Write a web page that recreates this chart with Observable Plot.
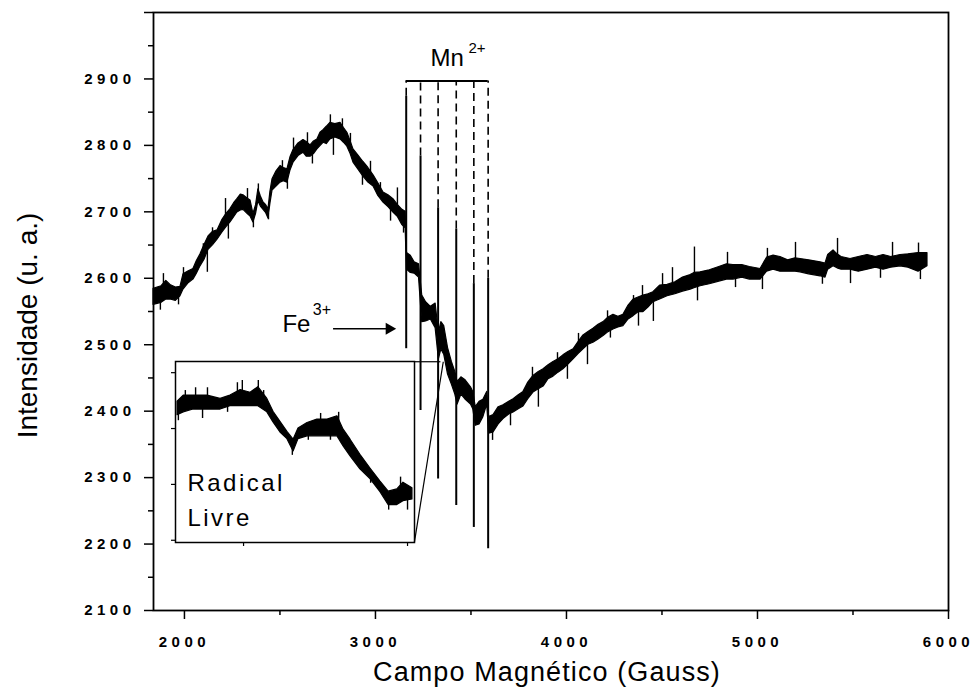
<!DOCTYPE html>
<html>
<head>
<meta charset="utf-8">
<script src="https://cdn.jsdelivr.net/npm/d3@7"></script>
<script src="https://cdn.jsdelivr.net/npm/@observablehq/plot@0.6"></script>
<style>
  body { margin: 0; background: #fff; }
  #wrap { position: relative; width: 973px; height: 698px; }
  #wrap svg text { font-family: "Liberation Sans", Arial, sans-serif; }
  g[aria-label="y-axis tick label"] text,
  g[aria-label="x-axis tick label"] text { letter-spacing: 4.5px; font-weight: bold; }
</style>
</head>
<body>
<div id="wrap"></div>
<script>
// ---------- main spectrum (field in Gauss, band low/high of the noisy trace) ----------
const fieldG = [1838,1880,1905,1927,1955,1979,1995,2020,2047,2065,2084,2105,2126,2150,2173,2199,2220,2241,2260,2277,2295,2309,2330,2346,2361,2375,2387,2400,2414,2428,2440,2450,2461,2482,2503,2520,2539,2555,2571,2597,2623,2640,2660,2678,2696,2712,2728,2745,2764,2790,2817,2835,2853,2870,2885,2910,2937,2963,2990,3015,3042,3068,3094,3118,3141,3158,
  3165,3185,3205,3228,3245,3265,3290,3315,3332,3345,3360,3380,3400,3418,3430,3450,3470,3500,3512,3525,3545,3565,3585,3595,
  3618,3645,3670,3700,3723,3750,3775,3800,3827,3855,3880,3906,3932,3958,3984,4010,4037,4063,4089,4115,4141,4168,4194,4220,4246,4272,4298,4325,4351,4377,4403,4429,4455,4490,4529,4570,4610,4650,4670,4702,4750,4800,4840,4874,4920,4960,5016,5050,5084,5120,5160,5199,5225,5270,5330,5356,5370,5398,5419,5440,5487,5530,5576,5620,5660,5700,5749,5790,5843,5890];
const lowI = [2560,2563,2568,2568,2566,2573,2583,2592,2598,2607,2618,2628,2643,2650,2658,2669,2677,2684,2692,2699,2702,2703,2697,2693,2684,2697,2716,2708,2703,2698,2690,2712,2732,2738,2744,2746,2744,2762,2774,2784,2789,2783,2783,2787,2794,2799,2804,2802,2809,2812,2809,2804,2798,2787,2774,2764,2753,2744,2738,2724,2714,2707,2699,2692,2680,2675,
  2613,2608,2607,2601,2534,2535,2538,2525,2478,2493,2485,2455,2440,2425,2410,2425,2418,2410,2403,2378,2380,2391,2410,2366,
  2368,2380,2388,2395,2398,2403,2407,2418,2428,2433,2437,2448,2452,2458,2463,2470,2478,2486,2493,2500,2503,2508,2513,2519,2523,2526,2528,2538,2543,2549,2549,2556,2564,2568,2573,2576,2580,2583,2585,2588,2591,2595,2598,2598,2601,2598,2598,2610,2613,2610,2610,2610,2609,2606,2603,2601,2613,2618,2615,2613,2613,2610,2613,2616,2613,2616,2618,2616,2610,2618];
const highI = [2584,2588,2596,2590,2586,2587,2606,2610,2614,2626,2636,2650,2663,2670,2672,2688,2697,2704,2713,2719,2726,2725,2720,2717,2697,2710,2734,2723,2714,2710,2704,2730,2749,2761,2769,2766,2764,2782,2793,2803,2808,2805,2800,2806,2809,2819,2823,2828,2834,2832,2834,2826,2819,2806,2794,2785,2775,2766,2755,2743,2729,2725,2719,2710,2703,2700,
  2638,2634,2624,2621,2574,2564,2557,2562,2518,2534,2528,2495,2474,2459,2444,2451,2447,2436,2429,2406,2414,2417,2429,2391,
  2394,2406,2409,2414,2418,2424,2429,2443,2453,2459,2463,2469,2474,2478,2484,2489,2493,2504,2514,2519,2524,2530,2534,2541,2545,2542,2545,2559,2568,2571,2574,2576,2579,2589,2590,2594,2601,2605,2608,2609,2612,2617,2621,2620,2620,2617,2614,2631,2634,2632,2627,2630,2629,2627,2624,2622,2635,2642,2636,2632,2629,2632,2635,2632,2635,2632,2635,2636,2638,2638];

// ---------- isolated noise needles (field, tip value) ----------
const spikeField = [1874,1890,1969,1995,2099,2120,2147,2215,2230,2330,2361,2387,2440,2513,2539,2571,2644,2670,2764,2780,2827,2869,2932,2974,3026,3079,3115,3147,
  3613,3707,3822,3853,3953,4005,4063,4110,4215,4230,4351,4377,4398,4455,4503,4555,4670,4686,4843,4885,5026,5052,5199,5340,5419,5487,5644,5707,5843,5853];
const spikeTip = [2552,2607,2560,2616,2652,2609,2676,2720,2659,2735,2676,2742,2688,2777,2734,2811,2819,2772,2846,2785,2840,2818,2740,2776,2744,2686,2736,2668,
  2356,2378,2466,2406,2488,2448,2517,2470,2551,2510,2574,2528,2589,2535,2607,2616,2647,2566,2639,2586,2583,2645,2654,2591,2660,2592,2600,2654,2653,2598];

// ---------- Mn2+ hyperfine lines ----------
const mnField = [3161, 3236, 3328, 3423, 3515, 3590];
const mnTop = [2874, 2784, 2706, 2674, 2592, 2600];
const mnBottom = [2494, 2401, 2298, 2258, 2225, 2193];
const bracketLevel = 2897;

// ---------- inset: radical livre (zoomed region) ----------
const insetField = [3303.9,3305.4,3307.8,3311.2,3314.4,3316.8,3319.3,3321.7,3323.6,3325.8,3327.3,3329.0,3330.7,3332.2,3333.4,3335.6,3338.0,3340.5,3342.9,3344.4,3346.1,3348.5,3351.0,3353.4,3355.4,3357.5,3359.0,3361.2];
const insetLow = [2472.4,2472.9,2473.4,2473.4,2473.4,2474.0,2474.0,2474.0,2474.0,2472.9,2471.1,2469.3,2468.1,2465.9,2468.1,2468.6,2468.6,2468.6,2468.6,2466.8,2465.0,2462.7,2460.9,2458.6,2456.3,2456.3,2457.0,2457.3];
const insetHigh = [2474.8,2475.9,2475.9,2475.9,2475.3,2475.9,2476.9,2476.4,2477.4,2475.3,2473.0,2471.2,2469.4,2468.0,2470.0,2471.0,2471.6,2471.6,2472.2,2469.8,2468.0,2465.3,2462.8,2460.5,2458.7,2459.1,2460.3,2459.3];
const insetSpikeField = [3304.1,3305.8,3308.3,3310.0,3311.2,3316.1,3318.5,3319.7,3323.6,3324.9,3331.9,3335.8,3338.8,3341.2,3343.2,3351.0,3355.4,3358.3,3360.0];
const insetSpikeTip = [2471.4,2476.8,2477.3,2471.8,2477.3,2472.9,2478.2,2478.6,2478.6,2476.8,2465.2,2467.9,2472.7,2467.9,2472.9,2460.2,2455.4,2461.3,2455.4];

// ---------- axes ----------
const xMajor = [2000, 3000, 4000, 5000, 6000];
const xMinor = [2500, 3500, 4500, 5500];
const yMajor = [2100, 2200, 2300, 2400, 2500, 2600, 2700, 2800, 2900, 3000];
const yMinor = [2150, 2250, 2350, 2450, 2550, 2650, 2750, 2850, 2950];
const yLabelled = [2100, 2200, 2300, 2400, 2500, 2600, 2700, 2800, 2900];
const xTitle = "Campo Magnético (Gauss)";
const yTitle = "Intensidade (u. a.)";

// ---------- annotations ----------
const mnLabel = {x: 3288, y: 2931, text: "Mn", sup: "2+", supX: 3487, supY: 2947};
const feLabel = {x: 2513, y: 2531, text: "Fe", sup: "3+", supX: 2672, supY: 2553};
const feArrow = {x1: 2778, x2: 3072, y: 2524};
const insetCorner = {x: 3204, yTop: 2474.4, yBottom: 2203};
const insetTarget = {xTop: 3340, xBottom: 3355, y: 2474.4};
const insetText = [{x: 3306.3, y: 2460.2, t: "Radical"}, {x: 3306.3, y: 2453.9, t: "Livre"}];

// ---------- build rows ----------
const trace = fieldG.map((g, i) => ({G: g, lo: lowI[i], hi: highI[i]}));
const nearestMid = (xs, los, his, g) => {
  let best = 0;
  for (let i = 1; i < xs.length; i++) if (Math.abs(xs[i] - g) < Math.abs(xs[best] - g)) best = i;
  return (los[best] + his[best]) / 2;
};
const spikes = spikeField.map((g, i) => ({G: g, tip: spikeTip[i], base: nearestMid(fieldG, lowI, highI, g)}));
const mnRows = mnField.map((g, i) => ({G: g, top: mnTop[i], bottom: mnBottom[i]}));
const insetRows = insetField.map((g, i) => ({G: g, lo: insetLow[i], hi: insetHigh[i]}));
const insetSpikes = insetSpikeField.map((g, i) => ({G: g, tip: insetSpikeTip[i], base: nearestMid(insetField, insetLow, insetHigh, g)}));
const connectors = [
  {x1: insetCorner.x, y1: insetCorner.yTop, x2: insetTarget.xTop, y2: insetTarget.y},
  {x1: insetCorner.x, y1: insetCorner.yBottom, x2: insetTarget.xBottom, y2: insetTarget.y}
];
const FONT = "Liberation Sans, Arial, sans-serif";

const main = Plot.plot({
  width: 973, height: 698,
  marginLeft: 153, marginRight: 25, marginTop: 12, marginBottom: 88,
  x: {domain: [1838, 6000]},
  y: {domain: [2100, 3000]},
  style: {fontFamily: FONT, background: "white", color: "black", overflow: "visible"},
  marks: [
    Plot.axisY({ticks: yMajor, tickSize: 9, tickPadding: 9, strokeWidth: 1.5, fontSize: 15,
      tickFormat: d => yLabelled.includes(d) ? String(d) : "", label: null}),
    Plot.axisY({ticks: yMinor, tickSize: 5, strokeWidth: 1.5, tickFormat: () => "", label: null}),
    Plot.axisX({ticks: xMajor, tickSize: 9, tickPadding: 17, strokeWidth: 1.5, fontSize: 15,
      tickFormat: d => String(d), label: null}),
    Plot.axisX({ticks: xMinor, tickSize: 5, strokeWidth: 1.5, tickFormat: () => "", label: null}),
    Plot.frame({stroke: "black", strokeWidth: 1.8}),
    // connectors from inset
    Plot.link(connectors, {x1: "x1", y1: "y1", x2: "x2", y2: "y2", stroke: "black", strokeWidth: 1.2}),
    // spectrum band and needles
    Plot.areaY(trace, {x: "G", y1: "lo", y2: "hi", fill: "black", stroke: "black", strokeWidth: 1.2}),
    Plot.ruleX(spikes, {x: "G", y1: "base", y2: "tip", stroke: "black", strokeWidth: 1.4}),
    // Mn lines
    Plot.ruleX(mnRows, {x: "G", y1: "bottom", y2: "top", stroke: "black", strokeWidth: 2}),
    Plot.ruleX(mnRows, {x: "G", y1: "top", y2: () => bracketLevel, stroke: "black", strokeWidth: 1.6, strokeDasharray: "8,5"}),
    Plot.ruleY([bracketLevel], {x1: mnField[0], x2: mnField[mnField.length - 1], stroke: "black", strokeWidth: 2}),
    // labels
    Plot.text([mnLabel], {x: "x", y: "y", text: "text", textAnchor: "start", fontSize: 24}),
    Plot.text([mnLabel], {x: "supX", y: "supY", text: "sup", textAnchor: "start", fontSize: 15}),
    Plot.text([feLabel], {x: "x", y: "y", text: "text", textAnchor: "start", fontSize: 24}),
    Plot.text([feLabel], {x: "supX", y: "supY", text: "sup", textAnchor: "start", fontSize: 16}),
    Plot.link([feArrow], {x1: "x1", x2: "x2", y1: "y", y2: "y", stroke: "black", strokeWidth: 1.5}),
    Plot.dot([feArrow], {x: "x2", y: "y", symbol: "triangle", rotate: 90, r: 4.5, fill: "black", stroke: "none"}),
    // titles
    Plot.text([xTitle], {text: d => d, frameAnchor: "bottom", textAnchor: "middle", dy: 70, dx: -4, fontSize: 27}),
    Plot.text([yTitle], {text: d => d, frameAnchor: "left", textAnchor: "middle", dx: -125, dy: 14, rotate: -90, fontSize: 28})
  ]
});

const inset = Plot.plot({
  width: 247, height: 189,
  marginLeft: 7, marginRight: 1, marginTop: 1, marginBottom: 7,
  x: {domain: [3303.4, 3361.7]},
  y: {domain: [2449.6, 2482]},
  style: {fontFamily: FONT, background: "transparent", color: "black", overflow: "visible"},
  marks: [
    Plot.axisX({ticks: [3320, 3360], tickSize: 4, strokeWidth: 1.2, tickFormat: () => "", label: null}),
    Plot.axisY({ticks: [2450, 2460, 2470, 2480], tickSize: 4, strokeWidth: 1.2, tickFormat: () => "", label: null}),
    Plot.frame({stroke: "black", strokeWidth: 1.5}),
    Plot.areaY(insetRows, {x: "G", y1: "lo", y2: "hi", fill: "black", stroke: "black", strokeWidth: 1.2}),
    Plot.ruleX(insetSpikes, {x: "G", y1: "base", y2: "tip", stroke: "black", strokeWidth: 1.4}),
    Plot.text(insetText, {x: "x", y: "y", text: "t", textAnchor: "start", fontSize: 24})
  ]
});

// letter spacing of the wide-set labels
const spacing = new Map([[xTitle, "1.1px"], ["Radical", "2.5px"], ["Livre", "2.5px"]]);
for (const svg of [main, inset]) {
  d3.select(svg).selectAll("text").each(function () {
    const s = spacing.get(this.textContent);
    if (s) this.style.letterSpacing = s;
  });
}

const wrap = document.getElementById("wrap");
wrap.appendChild(main);
inset.style.position = "absolute";
inset.style.left = "168px";
inset.style.top = "360px";
wrap.appendChild(inset);
</script>
</body>
</html>
